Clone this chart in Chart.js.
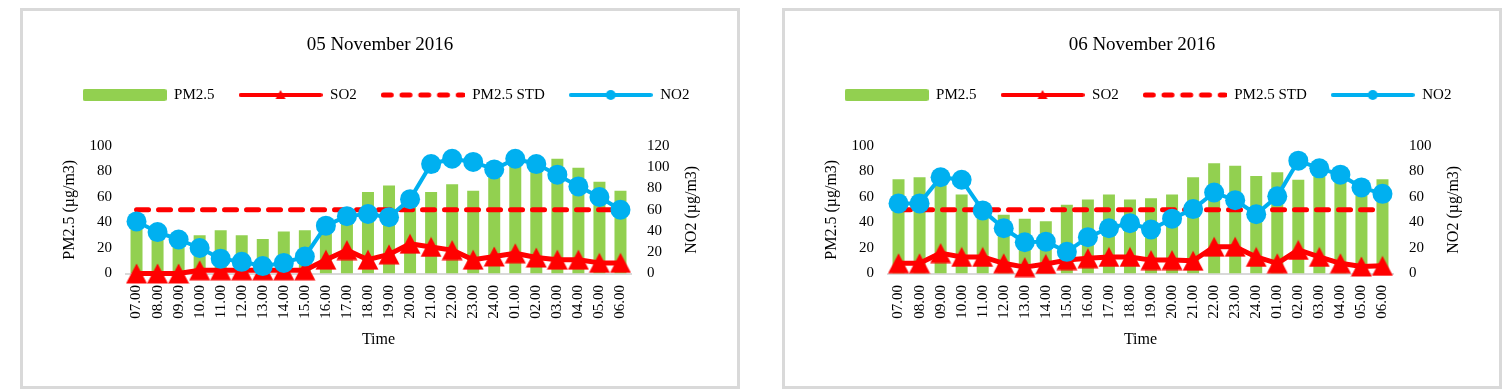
<!DOCTYPE html>
<html>
<head>
<meta charset="utf-8">
<title>PM2.5, SO2 and NO2</title>
<script src="https://cdn.jsdelivr.net/npm/chart.js@4.4.0/dist/chart.umd.min.js"></script>
<style>
  body { margin: 0; background: #fff; width: 1510px; height: 391px; position: relative; overflow: hidden; }
  .frame { position: absolute; top: 8px; width: 720px; height: 381px; border: 3px solid #d9d9d9; box-sizing: border-box; background: #fff; }
  .frame canvas { display: block; }
</style>
</head>
<body>
<div class="frame" style="left:20px"><canvas id="nov5" width="714" height="375" style="width:714px;height:375px"></canvas></div>
<div class="frame" style="left:782px"><canvas id="nov6" width="714" height="375" style="width:714px;height:375px"></canvas></div>

<script>
// categories
const hours = ['07.00', '08.00', '09.00', '10.00', '11.00', '12.00', '13.00', '14.00', '15.00', '16.00', '17.00', '18.00',
  '19.00', '20.00', '21.00', '22.00', '23.00', '24.00', '01.00', '02.00', '03.00', '04.00', '05.00', '06.00'];

// 05 November 2016
const pm25Nov5 = [35, 28, 24, 30, 34, 30, 27, 33, 34, 36, 48, 64, 69, 62, 64, 70, 65, 80, 87, 83, 90, 83, 72, 65];
const so2Nov5 = [0, 0, 0, 3, 3, 3, 3, 3, 3, 13, 22, 13, 18, 28, 25, 22, 13, 16, 19, 15, 13, 13, 10, 10];
const no2Nov5 = [49, 39, 32, 24, 14, 11, 7, 10, 16, 45, 54, 56, 53, 70, 103, 108, 105, 98, 108, 103, 93, 82, 72, 60];

// 06 November 2016
const pm25Nov6 = [74, 75.5, 72, 62, 46, 46, 43, 41, 54, 58, 62, 58, 59, 62, 75.5, 86.5, 84.5, 76.5, 79.5, 73.5, 82, 76, 70, 74];
const so2Nov6 = [8, 8, 16, 13, 13, 8, 5, 7.5, 10.5, 12, 13, 13, 10.5, 10.5, 10, 21, 21, 13, 8, 18.5, 13, 8, 5.5, 6];
const no2Nov6 = [55, 55, 75.5, 73.5, 49.5, 35.5, 24.5, 25, 17, 28.5, 35.5, 39.5, 34.5, 43, 50.5, 63.5, 57.5, 46.5, 60.5, 88.5, 82.5, 77.5, 67.5, 62.5];

// standard line and axis ranges
const pm25Std = 50;
const leftMax = 100;
const rightMaxNov5 = 120;
const rightMaxNov6 = 100;
const tickStep = 20;

const GREEN = '#92d050';
const RED = '#ff0000';
const BLUE = '#00b0f0';
const GREY = '#d9d9d9';
const SERIF = "'Liberation Serif', 'Times New Roman', serif";

Chart.defaults.font.family = SERIF;
Chart.defaults.color = '#000';

// small canvases used as markers
function makeIcon(w, h, draw) {
  const c = document.createElement('canvas');
  c.width = w;
  c.height = h;
  draw(c.getContext('2d'));
  return c;
}

const triangle = makeIcon(22, 21, ctx => {
  ctx.fillStyle = RED;
  ctx.beginPath();
  ctx.moveTo(11, 0.5);
  ctx.lineTo(21.5, 20.5);
  ctx.lineTo(0.5, 20.5);
  ctx.closePath();
  ctx.fill();
});

const iconPm25 = makeIcon(84, 16, ctx => {
  ctx.fillStyle = GREEN;
  ctx.beginPath();
  ctx.roundRect(0, 2, 84, 12, 2);
  ctx.fill();
});

const iconSo2 = makeIcon(84, 16, ctx => {
  ctx.strokeStyle = RED;
  ctx.lineWidth = 4;
  ctx.lineCap = 'round';
  ctx.beginPath();
  ctx.moveTo(2, 8);
  ctx.lineTo(82, 8);
  ctx.stroke();
  ctx.fillStyle = RED;
  ctx.beginPath();
  ctx.moveTo(42, 3);
  ctx.lineTo(47, 12);
  ctx.lineTo(37, 12);
  ctx.closePath();
  ctx.fill();
});

const iconStd = makeIcon(84, 16, ctx => {
  ctx.strokeStyle = RED;
  ctx.lineWidth = 5;
  ctx.lineCap = 'round';
  ctx.setLineDash([8, 10.75]);
  ctx.beginPath();
  ctx.moveTo(2.5, 8);
  ctx.lineTo(82, 8);
  ctx.stroke();
});

const iconNo2 = makeIcon(84, 16, ctx => {
  ctx.strokeStyle = BLUE;
  ctx.lineWidth = 4;
  ctx.lineCap = 'round';
  ctx.beginPath();
  ctx.moveTo(2, 8);
  ctx.lineTo(82, 8);
  ctx.stroke();
  ctx.fillStyle = BLUE;
  ctx.beginPath();
  ctx.arc(42, 8, 5, 0, Math.PI * 2);
  ctx.fill();
});

const legendItems = [
  { text: 'PM2.5', pointStyle: iconPm25 },
  { text: 'SO2', pointStyle: iconSo2 },
  { text: 'PM2.5 STD', pointStyle: iconStd },
  { text: 'NO2', pointStyle: iconNo2 }
];

// nudges the legend a bit right and writes the right axis title bottom-to-top
const extras = {
  id: 'extras',
  afterLayout(chart) {
    chart.legend.left += 6;
    chart.legend.right += 6;
  },
  afterDraw(chart, args, opts) {
    const { ctx, chartArea } = chart;
    ctx.save();
    ctx.translate(chartArea.right + 61, (chartArea.top + chartArea.bottom) / 2);
    ctx.rotate(-Math.PI / 2);
    ctx.font = '16px ' + SERIF;
    ctx.fillStyle = '#000';
    ctx.textAlign = 'center';
    ctx.textBaseline = 'middle';
    ctx.fillText(opts.text, 0, 0);
    ctx.restore();
  }
};

function makeChart(id, title, pm25, so2, no2, rightMax) {
  return new Chart(document.getElementById(id), {
    type: 'bar',
    data: {
      labels: hours,
      datasets: [
        {
          type: 'bar', label: 'PM2.5', data: pm25, yAxisID: 'y', order: 4,
          backgroundColor: GREEN, borderWidth: 0, barPercentage: 0.57, categoryPercentage: 1
        },
        {
          type: 'line', label: 'SO2', data: so2, yAxisID: 'y1', order: 3, clip: false,
          borderColor: RED, borderWidth: 5, borderJoinStyle: 'round', tension: 0,
          pointStyle: triangle, pointRadius: 10, pointBackgroundColor: RED, pointBorderWidth: 0
        },
        {
          type: 'line', label: 'PM2.5 STD', data: hours.map(() => pm25Std), yAxisID: 'y', order: 2,
          borderColor: RED, borderWidth: 5, borderDash: [12, 10], borderCapStyle: 'round', pointRadius: 0
        },
        {
          type: 'line', label: 'NO2', data: no2, yAxisID: 'y1', order: 1, clip: false,
          borderColor: BLUE, borderWidth: 4, borderJoinStyle: 'round', tension: 0,
          pointStyle: 'circle', pointRadius: 10, pointBackgroundColor: BLUE, pointBorderWidth: 0
        }
      ]
    },
    options: {
      responsive: false,
      maintainAspectRatio: false,
      animation: false,
      events: [],
      layout: { padding: 0 },
      plugins: {
        tooltip: { enabled: false },
        title: {
          display: true, text: title, color: '#000',
          font: { size: 19, weight: 'normal' },
          padding: { top: 22.6, bottom: 7.1 }
        },
        legend: {
          display: true,
          labels: {
            usePointStyle: true,
            pointStyleWidth: 84,
            padding: 24,
            color: '#000',
            font: { size: 15 },
            generateLabels: () => legendItems.map((it, i) => ({
              text: it.text, pointStyle: it.pointStyle, datasetIndex: i,
              hidden: false, fontColor: '#000', lineWidth: 0
            }))
          }
        },
        // empty line used as a gap between the legend and the plot
        subtitle: {
          display: true, text: ' ', weight: 500,
          font: { size: 10 }, padding: { top: 21.5, bottom: 0 }
        },
        extras: { text: 'NO2 (µg/m3)' }
      },
      scales: {
        x: {
          grid: { display: false, drawTicks: false },
          border: { display: true, color: GREY, width: 2 },
          ticks: { autoSkip: false, minRotation: 90, maxRotation: 90, padding: 11.5, color: '#000', font: { size: 15 } },
          title: { display: true, text: 'Time', color: '#000', font: { size: 16 }, padding: { top: 0, bottom: 36.4 } },
          afterFit: s => { s.height = 112.5; }
        },
        y: {
          position: 'left', min: 0, max: leftMax,
          grid: { display: false, drawTicks: false },
          border: { display: false },
          ticks: { stepSize: tickStep, padding: 14, color: '#000', font: { size: 15 } },
          title: { display: true, text: 'PM2.5 (µg/m3)', color: '#000', font: { size: 16 }, padding: { top: 37.4, bottom: 0 } },
          afterFit: s => { s.width = 103; }
        },
        y1: {
          position: 'right', min: 0, max: rightMax,
          grid: { display: false, drawTicks: false },
          border: { display: false },
          ticks: { stepSize: tickStep, padding: 16, color: '#000', font: { size: 15 } },
          afterFit: s => { s.width = 106; }
        }
      }
    },
    plugins: [extras]
  });
}

makeChart('nov5', '05 November 2016', pm25Nov5, so2Nov5, no2Nov5, rightMaxNov5);
makeChart('nov6', '06 November 2016', pm25Nov6, so2Nov6, no2Nov6, rightMaxNov6);
</script>
</body>
</html>
